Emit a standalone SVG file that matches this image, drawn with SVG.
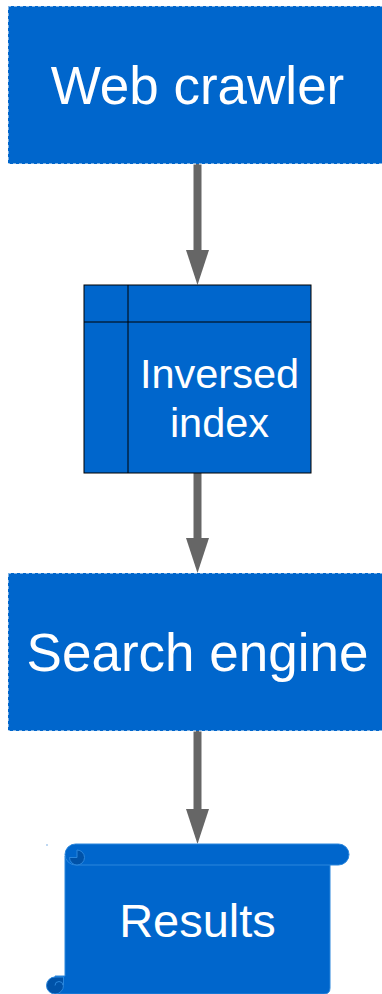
<svg xmlns="http://www.w3.org/2000/svg" width="382" height="994" viewBox="0 0 382 994">
<style>
.box{fill:#0066CC;stroke:#ffffff;stroke-width:1;stroke-dasharray:3 3}
.lbl{font-family:"Liberation Sans",Arial,sans-serif;fill:#ffffff;text-anchor:middle}
.conn{stroke:#666666;stroke-width:8;fill:none}
.head{fill:#666666}
.scroll{fill:#0066CC;stroke:#2a86dc;stroke-width:1}
.curl{fill:#0052a8;stroke:#2a86dc;stroke-width:1}
</style>
<g id="connectors">
<line class="conn" x1="197.5" y1="164" x2="197.5" y2="252"/>
<polygon class="head" points="186,250 209,250 197.5,285"/>
<line class="conn" x1="197.5" y1="473" x2="197.5" y2="540"/>
<polygon class="head" points="186,538 209,538 197.5,573"/>
<line class="conn" x1="197.5" y1="731" x2="197.5" y2="811"/>
<polygon class="head" points="186,809 209,809 197.5,844"/>
</g>
<g id="web-crawler">
<rect class="box" x="8" y="6" width="378" height="158"/>
<text class="lbl" x="197.5" y="104" font-size="53">Web crawler</text>
</g>
<g id="inversed-index">
<rect x="84" y="285" width="227" height="188" fill="#0066CC" stroke="#000000" stroke-width="1"/>
<line x1="128" y1="285" x2="128" y2="473" stroke="#000000" stroke-width="1"/>
<line x1="84" y1="322" x2="311" y2="322" stroke="#000000" stroke-width="1"/>
<text class="lbl" x="219.5" y="388" font-size="41.5">Inversed</text>
<text class="lbl" x="219.5" y="437" font-size="41.5">index</text>
</g>
<g id="search-engine">
<rect class="box" x="8" y="573" width="378" height="158"/>
<text class="lbl" x="197.5" y="671" font-size="53">Search engine</text>
</g>
<g id="results">
<path class="scroll" d="M65,856 L330,856 L330,988 Q330,994 324,994 L55,994 L55,976 L65,976 Z"/>
<rect class="scroll" x="65" y="844" width="284" height="21" rx="10.5" ry="10.5"/>
<path class="curl" d="M77,850 A7.5,7.5 0 1 1 77,865 A7.5,7.5 0 0 1 69.5,857.5 L77,857.5 Z"/>
<path class="curl" d="M55,977 A8.5,8.5 0 1 0 63.5,985.5 L63.5,977 Z"/>
<path d="M55,985.5 A4,4 0 0 1 63,985.5" fill="none" stroke="#2a86dc" stroke-width="1"/>
<rect x="46.5" y="844.5" width="1" height="1" fill="#0066CC"/>
<text class="lbl" x="197.5" y="937" font-size="47">Results</text>
</g>
</svg>
